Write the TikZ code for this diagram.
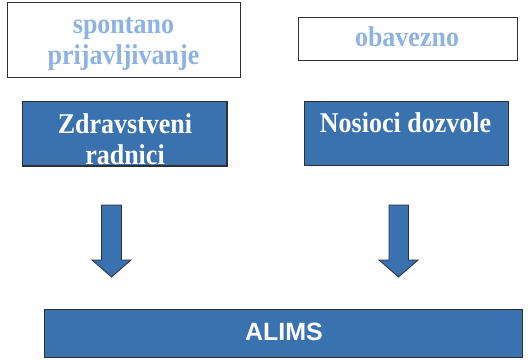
\documentclass[tikz,border=0pt]{standalone}
\usepackage{fontspec}
\setmainfont{Liberation Serif}
\newfontfamily\arialfont{Liberation Sans}
\definecolor{boxblue}{HTML}{3A72B0}
\definecolor{lightblue}{HTML}{8DB3E2}
\definecolor{edgegray}{HTML}{303030}
\newcommand{\tallbox}[1]{\scalebox{1}[1.1]{#1}}
\begin{document}
\begin{tikzpicture}[x=1pt,y=-1pt,
  whitebox/.style={draw=edgegray, line width=1pt, fill=white, anchor=north west, inner sep=0pt},
  bluebox/.style={draw=edgegray, line width=1pt, fill=boxblue, anchor=north west, inner sep=0pt},
  lighttext/.style={text=lightblue, font=\bfseries\fontsize{26}{30}\selectfont, inner sep=0pt, anchor=base},
  whitetext/.style={text=white, font=\bfseries\fontsize{26}{30}\selectfont, inner sep=0pt, anchor=base},
  blockarrow/.style={draw=edgegray, line width=0.8pt, fill=boxblue, line join=miter}]
\useasboundingbox (0,0) rectangle (529,360);
% top white boxes
\node[whitebox, minimum width=233pt, minimum height=75pt] (sp) at (7,2) {};
\node[lighttext] (sptext1) at (123.5,33) {\tallbox{spontano}};
\node[lighttext] (sptext2) at (123.5,64) {\tallbox{prijavljivanje}};
\node[whitebox, minimum width=219pt, minimum height=43pt] (ob) at (298,17) {};
\node[lighttext] (obtext) at (407,46.5) {\tallbox{obavezno}};
% blue boxes
\node[bluebox, minimum width=204pt, minimum height=64pt] (zr) at (22,101) {};
\begin{scope}
  \clip (22,101) rectangle (226,165);
  \node[whitetext] (zr1) at (125,133) {\tallbox{Zdravstveni}};
  \node[whitetext] (zr2) at (125,164.5) {\tallbox{radnici}};
\end{scope}
\draw[edgegray, line width=1pt] (zr.north west) rectangle (zr.south east);
\node[bluebox, minimum width=204pt, minimum height=64pt] (nd) at (304,101) {};
\node[whitetext] (ndtext) at (405.5,132.5) {\tallbox{Nosioci dozvole}};
% arrows
\draw[blockarrow] (101.5,205) -- (121.5,205) -- (121.5,260) -- (131,260) -- (111.5,277)
  -- (92,260) -- (101.5,260) -- cycle;
\draw[blockarrow] (389,205) -- (408.5,205) -- (408.5,260) -- (418,260) -- (398.5,277)
  -- (379,260) -- (389,260) -- cycle;
% ALIMS
\node[bluebox, minimum width=478pt, minimum height=48pt] (al) at (44,309) {};
\node[text=white, font=\arialfont\bfseries\fontsize{25}{30}\selectfont, anchor=base, inner sep=0pt] (altext) at (284,340.5) {ALIMS};
\end{tikzpicture}
\end{document}
